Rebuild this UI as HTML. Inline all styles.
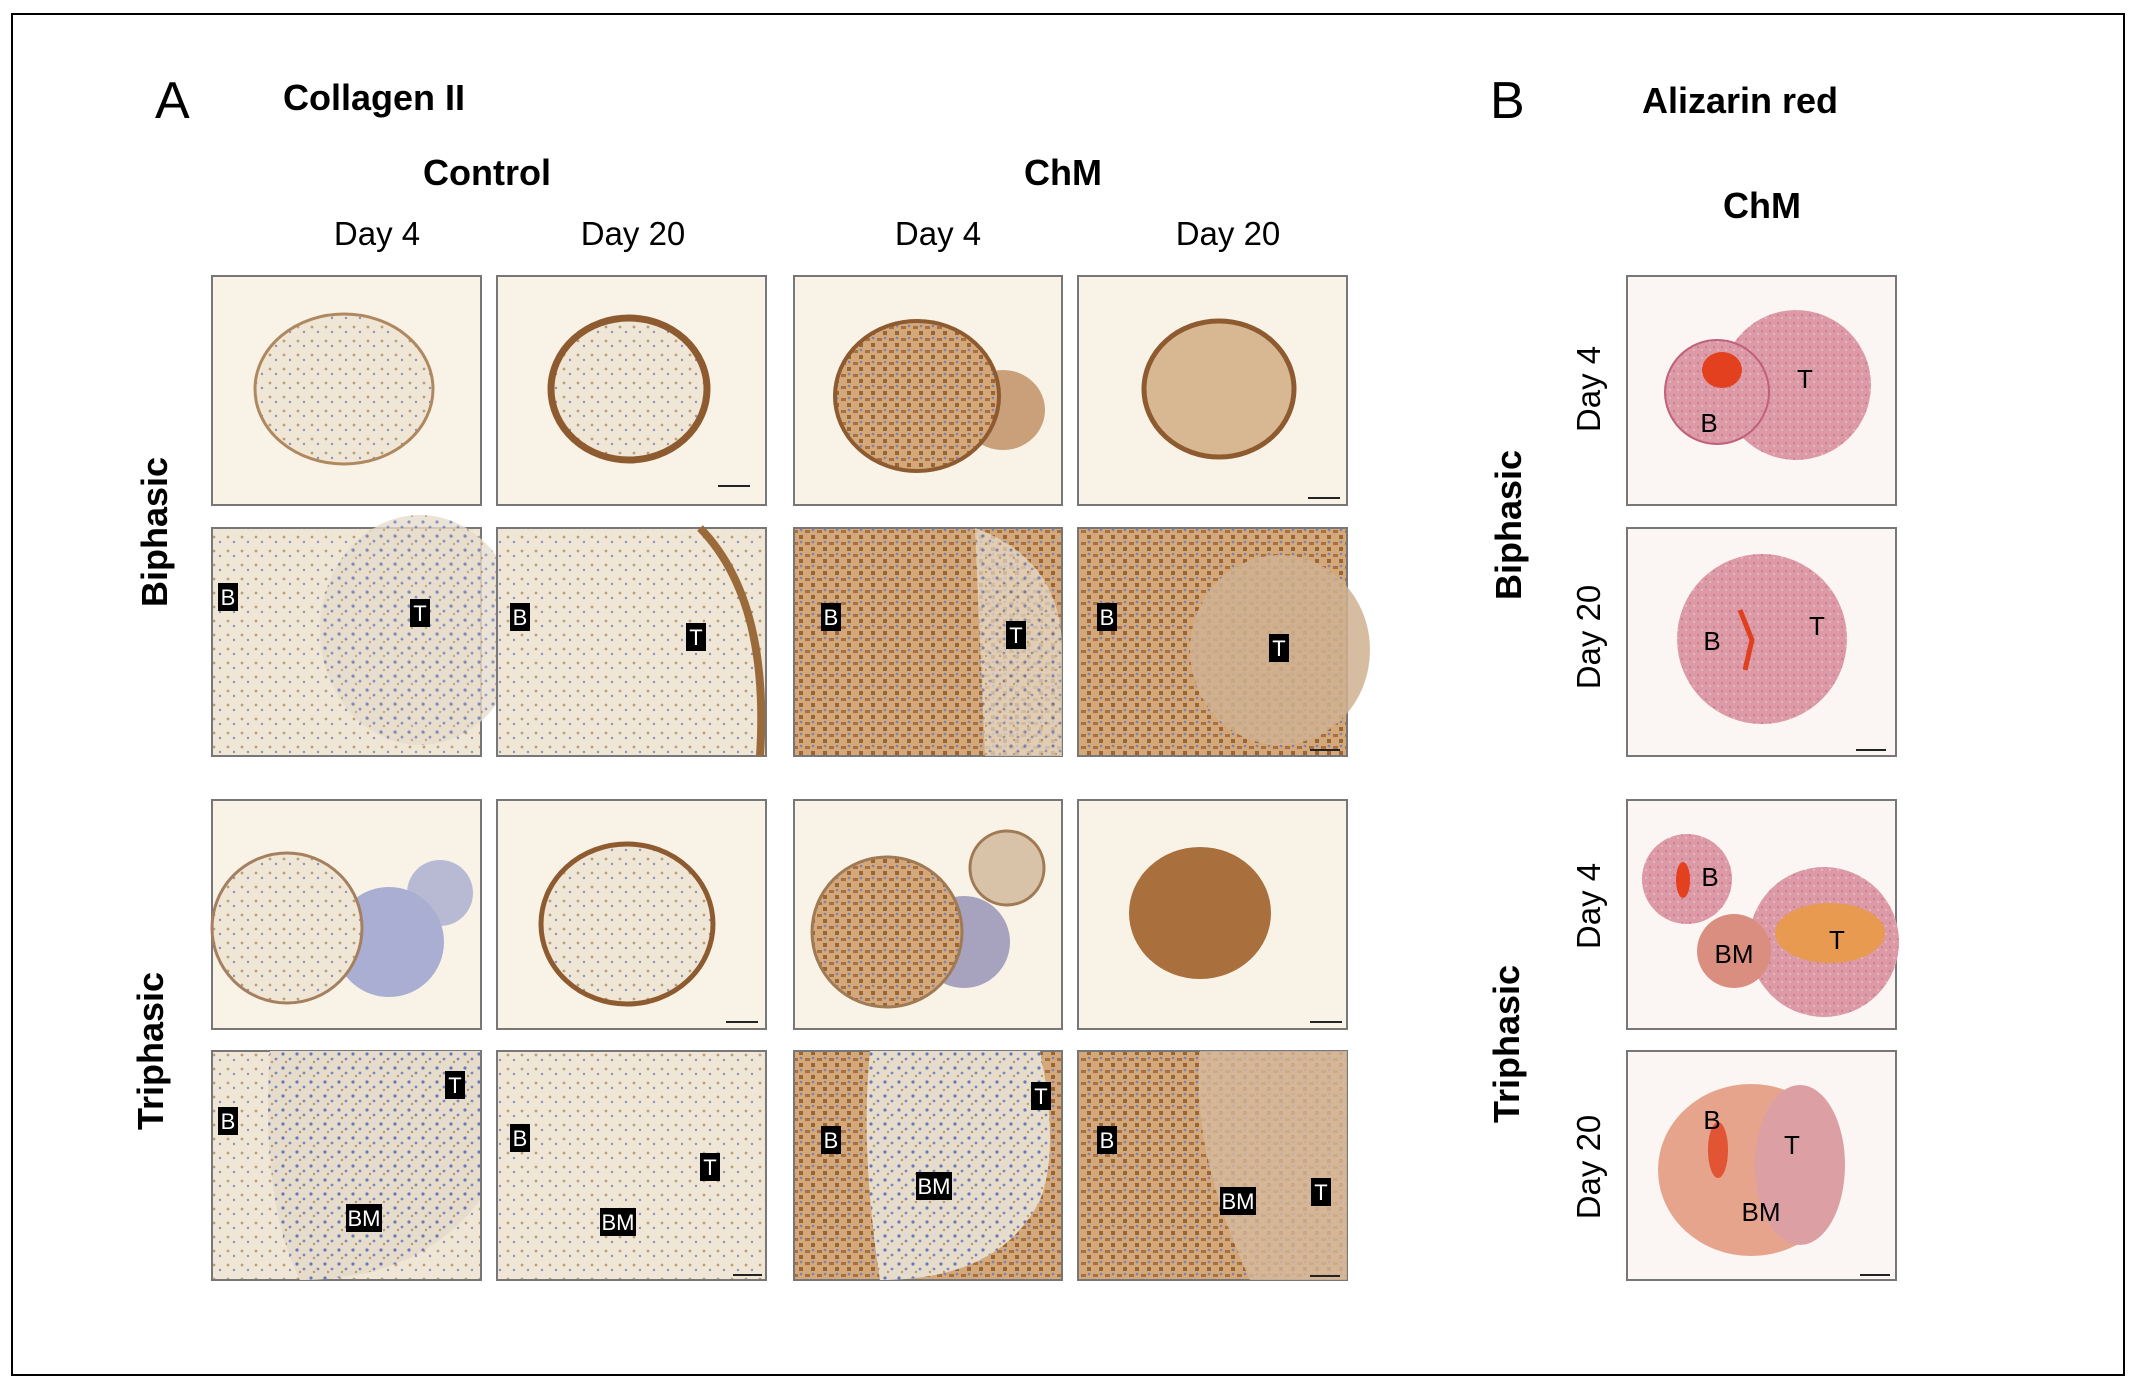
<!DOCTYPE html>
<html><head><meta charset="utf-8"><style>
html,body{margin:0;padding:0;background:#fff;}
svg{display:block;}
text{font-family:"Liberation Sans",sans-serif;}
</style></head><body>
<svg width="2141" height="1388" viewBox="0 0 2141 1388">
<defs>
<pattern id="cellsBlue" width="14" height="14" patternUnits="userSpaceOnUse"><rect width="14" height="14" fill="#e6dccb"/><circle cx="3" cy="4" r="1.6" fill="#6a78b8"/><circle cx="10" cy="9" r="1.4" fill="#7d86bd"/><circle cx="6" cy="12" r="1.2" fill="#b8996e"/></pattern>
<pattern id="cellsBrown" width="12" height="12" patternUnits="userSpaceOnUse"><rect width="12" height="12" fill="#d3a97c"/><rect x="1" y="2" width="5" height="3" fill="#a8703e"/><rect x="7" y="7" width="4" height="4" fill="#9a6434"/><circle cx="9" cy="2" r="1.3" fill="#7c82b4"/></pattern>
<pattern id="cellsPale" width="14" height="14" patternUnits="userSpaceOnUse"><rect width="14" height="14" fill="#efe6d6"/><circle cx="4" cy="5" r="1.4" fill="#b99e7c"/><circle cx="10" cy="10" r="1.2" fill="#8f92b8"/></pattern>
<pattern id="pinkTex" width="8" height="8" patternUnits="userSpaceOnUse"><rect width="8" height="8" fill="#dc9aa6"/><circle cx="2" cy="3" r="1" fill="#c9788c"/><circle cx="6" cy="6" r="0.9" fill="#f0c6cc"/></pattern>
</defs>

<rect x="12" y="14" width="2112" height="1361" fill="#fff" stroke="#000" stroke-width="2"/>

<!-- Titles -->
<text x="155" y="118" font-size="52">A</text>
<text x="283" y="110" font-size="36" font-weight="bold">Collagen II</text>
<text x="487" y="185" font-size="36" font-weight="bold" text-anchor="middle">Control</text>
<text x="1063" y="185" font-size="36" font-weight="bold" text-anchor="middle">ChM</text>
<text x="377" y="245" font-size="33" text-anchor="middle">Day 4</text>
<text x="633" y="245" font-size="33" text-anchor="middle">Day 20</text>
<text x="938" y="245" font-size="33" text-anchor="middle">Day 4</text>
<text x="1228" y="245" font-size="33" text-anchor="middle">Day 20</text>
<text transform="translate(167,532) rotate(-90)" font-size="36" font-weight="bold" text-anchor="middle">Biphasic</text>
<text transform="translate(163,1051) rotate(-90)" font-size="36" font-weight="bold" text-anchor="middle">Triphasic</text>

<text x="1490" y="118" font-size="52">B</text>
<text x="1740" y="113" font-size="36" font-weight="bold" text-anchor="middle">Alizarin red</text>
<text x="1762" y="218" font-size="36" font-weight="bold" text-anchor="middle">ChM</text>
<text transform="translate(1521,525) rotate(-90)" font-size="36" font-weight="bold" text-anchor="middle">Biphasic</text>
<text transform="translate(1519,1044) rotate(-90)" font-size="36" font-weight="bold" text-anchor="middle">Triphasic</text>
<text transform="translate(1600,389) rotate(-90)" font-size="33" text-anchor="middle">Day 4</text>
<text transform="translate(1600,637) rotate(-90)" font-size="33" text-anchor="middle">Day 20</text>
<text transform="translate(1600,906) rotate(-90)" font-size="33" text-anchor="middle">Day 4</text>
<text transform="translate(1600,1167) rotate(-90)" font-size="33" text-anchor="middle">Day 20</text>

<!-- Row 1 overview -->
<g>
<rect x="212" y="276" width="269" height="229" fill="#f8f3e6" stroke="#777" stroke-width="2"/>
<ellipse cx="344" cy="389" rx="89" ry="75" fill="url(#cellsPale)" stroke="#b08860" stroke-width="3"/>
</g>
<g>
<rect x="497" y="276" width="269" height="229" fill="#f8f3e6" stroke="#777" stroke-width="2"/>
<ellipse cx="629" cy="389" rx="78" ry="71" fill="url(#cellsPale)" stroke="#8e5a30" stroke-width="7"/>
<line x1="718" y1="486" x2="750" y2="486" stroke="#222" stroke-width="2"/>
</g>
<g>
<rect x="794" y="276" width="268" height="229" fill="#f8f3e6" stroke="#777" stroke-width="2"/>
<ellipse cx="1003" cy="410" rx="42" ry="40" fill="#c9a07a"/>
<ellipse cx="917" cy="396" rx="82" ry="75" fill="url(#cellsBrown)" stroke="#8e5a30" stroke-width="4"/>
</g>
<g>
<rect x="1078" y="276" width="269" height="229" fill="#f8f3e6" stroke="#777" stroke-width="2"/>
<ellipse cx="1219" cy="389" rx="75" ry="68" fill="#d8b892" stroke="#8e5a30" stroke-width="5"/>
<line x1="1308" y1="498" x2="1340" y2="498" stroke="#222" stroke-width="2"/>
</g>

<!-- Row 2 close-ups -->
<g>
<rect x="212" y="528" width="269" height="228" fill="url(#cellsPale)" stroke="#777" stroke-width="2"/>
<ellipse cx="420" cy="630" rx="100" ry="115" fill="url(#cellsBlue)" opacity="0.8"/>
</g>
<g>
<rect x="497" y="528" width="269" height="228" fill="url(#cellsPale)" stroke="#777" stroke-width="2"/>
<path d="M700 528 Q770 600 760 756" stroke="#9a6a3a" stroke-width="8" fill="none"/>
</g>
<g>
<rect x="794" y="528" width="268" height="228" fill="url(#cellsBrown)" stroke="#777" stroke-width="2"/>
<path d="M975 528 Q1062 560 1062 650 L1062 756 L985 756 Z" fill="url(#cellsBlue)" opacity="0.7"/>
</g>
<g>
<rect x="1078" y="528" width="269" height="228" fill="url(#cellsBrown)" stroke="#777" stroke-width="2"/>
<ellipse cx="1280" cy="650" rx="90" ry="95" fill="#cfb192" opacity="0.85"/>
<line x1="1310" y1="750" x2="1340" y2="750" stroke="#222" stroke-width="2"/>
</g>

<!-- Row 3 overview -->
<g>
<rect x="212" y="800" width="269" height="229" fill="#f8f3e6" stroke="#777" stroke-width="2"/>
<circle cx="440" cy="893" r="33" fill="#b8bad4"/>
<circle cx="389" cy="942" r="55" fill="#a9aed2"/>
<circle cx="287" cy="928" r="75" fill="url(#cellsPale)" stroke="#a58060" stroke-width="3"/>
</g>
<g>
<rect x="497" y="800" width="269" height="229" fill="#f8f3e6" stroke="#777" stroke-width="2"/>
<ellipse cx="627" cy="924" rx="86" ry="80" fill="url(#cellsPale)" stroke="#8e5a30" stroke-width="5"/>
<line x1="726" y1="1022" x2="758" y2="1022" stroke="#222" stroke-width="2"/>
</g>
<g>
<rect x="794" y="800" width="268" height="229" fill="#f8f3e6" stroke="#777" stroke-width="2"/>
<circle cx="1007" cy="868" r="37" fill="#d9c3a8" stroke="#a07a55" stroke-width="3"/>
<circle cx="964" cy="942" r="46" fill="#a7a2be"/>
<circle cx="887" cy="932" r="75" fill="url(#cellsBrown)" stroke="#a07a55" stroke-width="3"/>
</g>
<g>
<rect x="1078" y="800" width="269" height="229" fill="#f8f3e6" stroke="#777" stroke-width="2"/>
<ellipse cx="1200" cy="913" rx="71" ry="66" fill="#a9703e"/>
<line x1="1310" y1="1022" x2="1342" y2="1022" stroke="#222" stroke-width="2"/>
</g>

<!-- Row 4 close-ups -->
<g>
<rect x="212" y="1051" width="269" height="229" fill="url(#cellsPale)" stroke="#777" stroke-width="2"/>
<path d="M270 1051 L480 1051 L480 1200 Q420 1280 300 1280 Q260 1200 270 1051Z" fill="url(#cellsBlue)"/>
</g>
<g>
<rect x="497" y="1051" width="269" height="229" fill="url(#cellsPale)" stroke="#777" stroke-width="2"/>
<line x1="733" y1="1275" x2="762" y2="1275" stroke="#222" stroke-width="2"/>
</g>
<g>
<rect x="794" y="1051" width="268" height="229" fill="url(#cellsBrown)" stroke="#777" stroke-width="2"/>
<path d="M870 1051 L1040 1051 Q1060 1150 1040 1200 Q1000 1280 880 1280 Q860 1150 870 1051Z" fill="url(#cellsBlue)"/>
</g>
<g>
<rect x="1078" y="1051" width="269" height="229" fill="url(#cellsBrown)" stroke="#777" stroke-width="2"/>
<path d="M1200 1051 L1347 1051 L1347 1280 L1250 1280 Q1190 1150 1200 1051Z" fill="#d6b99c" opacity="0.8"/>
<line x1="1310" y1="1276" x2="1340" y2="1276" stroke="#222" stroke-width="2"/>
</g>

<!-- Region label tags -->
<g font-size="22" fill="#fff" text-anchor="middle">
<rect x="218" y="583" width="20" height="28" fill="#000"/><text x="228" y="605">B</text>
<rect x="410" y="599" width="20" height="28" fill="#000"/><text x="420" y="621">T</text>
<rect x="510" y="603" width="20" height="28" fill="#000"/><text x="520" y="625">B</text>
<rect x="686" y="623" width="20" height="28" fill="#000"/><text x="696" y="645">T</text>
<rect x="821" y="603" width="20" height="28" fill="#000"/><text x="831" y="625">B</text>
<rect x="1006" y="621" width="20" height="28" fill="#000"/><text x="1016" y="643">T</text>
<rect x="1097" y="603" width="20" height="28" fill="#000"/><text x="1107" y="625">B</text>
<rect x="1269" y="634" width="20" height="28" fill="#000"/><text x="1279" y="656">T</text>
<rect x="218" y="1107" width="20" height="28" fill="#000"/><text x="228" y="1129">B</text>
<rect x="445" y="1071" width="20" height="28" fill="#000"/><text x="455" y="1093">T</text>
<rect x="346" y="1204" width="36" height="28" fill="#000"/><text x="364" y="1226">BM</text>
<rect x="510" y="1124" width="20" height="28" fill="#000"/><text x="520" y="1146">B</text>
<rect x="700" y="1153" width="20" height="28" fill="#000"/><text x="710" y="1175">T</text>
<rect x="600" y="1208" width="36" height="28" fill="#000"/><text x="618" y="1230">BM</text>
<rect x="821" y="1126" width="20" height="28" fill="#000"/><text x="831" y="1148">B</text>
<rect x="1031" y="1082" width="20" height="28" fill="#000"/><text x="1041" y="1104">T</text>
<rect x="916" y="1172" width="36" height="28" fill="#000"/><text x="934" y="1194">BM</text>
<rect x="1097" y="1126" width="20" height="28" fill="#000"/><text x="1107" y="1148">B</text>
<rect x="1311" y="1178" width="20" height="28" fill="#000"/><text x="1321" y="1200">T</text>
<rect x="1220" y="1187" width="36" height="28" fill="#000"/><text x="1238" y="1209">BM</text>
</g>

<!-- Alizarin panels -->
<g>
<rect x="1627" y="276" width="269" height="229" fill="#fbf6f3" stroke="#777" stroke-width="2"/>
<circle cx="1796" cy="385" r="75" fill="url(#pinkTex)"/>
<circle cx="1717" cy="392" r="52" fill="url(#pinkTex)" stroke="#c0607a" stroke-width="2"/>
<ellipse cx="1722" cy="370" rx="20" ry="18" fill="#e2401e"/>
<text x="1709" y="432" font-size="26" text-anchor="middle">B</text>
<text x="1805" y="388" font-size="26" text-anchor="middle">T</text>
</g>
<g>
<rect x="1627" y="528" width="269" height="228" fill="#fbf6f3" stroke="#777" stroke-width="2"/>
<circle cx="1762" cy="639" r="85" fill="url(#pinkTex)"/>
<path d="M1740 610 L1752 640 L1745 670" stroke="#e0401e" stroke-width="5" fill="none"/>
<text x="1712" y="650" font-size="26" text-anchor="middle">B</text>
<text x="1817" y="635" font-size="26" text-anchor="middle">T</text>
<line x1="1856" y1="750" x2="1886" y2="750" stroke="#222" stroke-width="2"/>
</g>
<g>
<rect x="1627" y="800" width="269" height="229" fill="#fbf6f3" stroke="#777" stroke-width="2"/>
<circle cx="1824" cy="942" r="75" fill="url(#pinkTex)"/>
<ellipse cx="1830" cy="933" rx="55" ry="30" fill="#e79a50"/>
<circle cx="1734" cy="951" r="37" fill="#d98e80"/>
<circle cx="1687" cy="879" r="45" fill="url(#pinkTex)"/>
<ellipse cx="1683" cy="880" rx="7" ry="18" fill="#e2401e"/>
<text x="1710" y="886" font-size="26" text-anchor="middle">B</text>
<text x="1734" y="963" font-size="26" text-anchor="middle">BM</text>
<text x="1837" y="949" font-size="26" text-anchor="middle">T</text>
</g>
<g>
<rect x="1627" y="1051" width="269" height="229" fill="#fbf6f3" stroke="#777" stroke-width="2"/>
<ellipse cx="1751" cy="1170" rx="93" ry="86" fill="#e6a48c"/>
<ellipse cx="1800" cy="1165" rx="45" ry="80" fill="#dca0a4"/>
<ellipse cx="1718" cy="1150" rx="10" ry="28" fill="#e0401e" opacity="0.8"/>
<text x="1712" y="1129" font-size="26" text-anchor="middle">B</text>
<text x="1792" y="1154" font-size="26" text-anchor="middle">T</text>
<text x="1761" y="1221" font-size="26" text-anchor="middle">BM</text>
<line x1="1860" y1="1275" x2="1890" y2="1275" stroke="#222" stroke-width="2"/>
</g>
</svg>
</body></html>
